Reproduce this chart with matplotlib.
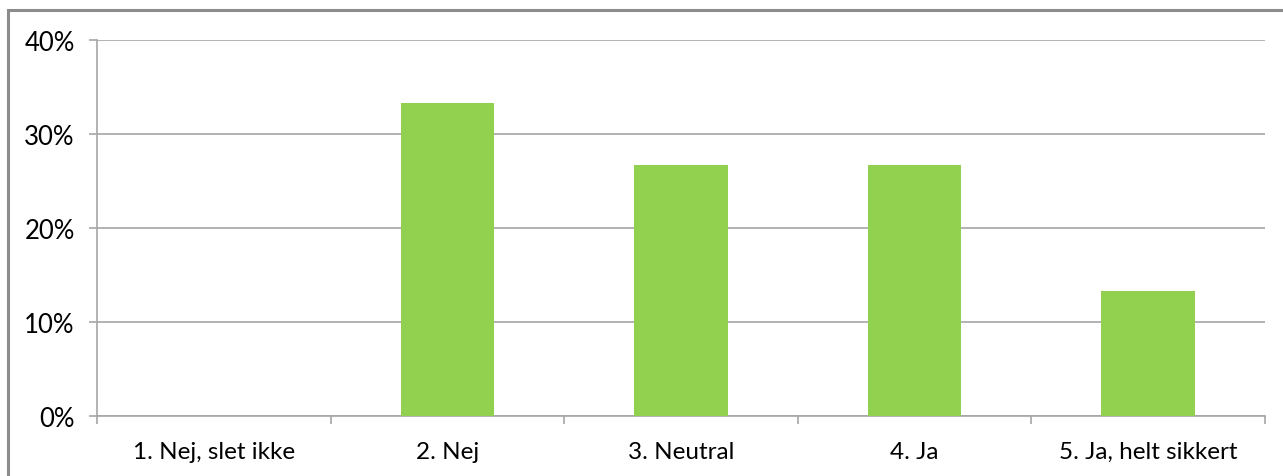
import numpy as np
import matplotlib.pyplot as plt
from matplotlib.patches import Rectangle
from matplotlib.ticker import PercentFormatter

categories = ["1. Nej, slet ikke", "2. Nej", "3. Neutral", "4. Ja", "5. Ja, helt sikkert"]
shares = [0.0, 33.3, 26.7, 26.7, 13.3]
y_ticks = [0, 10, 20, 30, 40]

plt.rcParams['font.family'] = ['Lato', 'DejaVu Sans']

W, H = 1283, 477
fig = plt.figure(figsize=(W / 100, H / 100), dpi=100)
ax = fig.add_axes([97 / W, 1 - 417 / H, (1265 - 97) / W, (417 - 41) / H])

grid_col = "#a6a6a6"
x = np.arange(len(categories))
ax.bar(x, shares, width=0.4, color="#92d050", zorder=3)

ax.set_xlim(-0.5, len(categories) - 0.5)
ax.set_ylim(0, 40)
ax.set_yticks(y_ticks)
ax.yaxis.set_major_formatter(PercentFormatter(decimals=0))
ax.grid(axis="y", color=grid_col, linewidth=1.2, zorder=0)

ax.set_xticks(x)
ax.set_xticklabels(categories)
ax.set_xticks(np.arange(-0.5, len(categories)), minor=True)
ax.tick_params(axis="x", which="major", length=0, pad=18, labelsize=17.5)
ax.tick_params(axis="x", which="minor", length=6, width=1.2, color=grid_col, direction="out")
ax.tick_params(axis="y", length=6, width=1.2, color=grid_col, pad=10, labelsize=18.5)

for side in ["top", "right"]:
    ax.spines[side].set_visible(False)
for side in ["left", "bottom"]:
    ax.spines[side].set_color(grid_col)
    ax.spines[side].set_linewidth(1.2)

# outer chart frame, running off the right and bottom edges
fig.patches.append(Rectangle((8 / W, -0.1), 1.2, 1 - 11 / H + 0.1, transform=fig.transFigure,
                             fill=False, edgecolor="#8c8c8c", linewidth=2.2))

fig.savefig("out.png", dpi=100)
